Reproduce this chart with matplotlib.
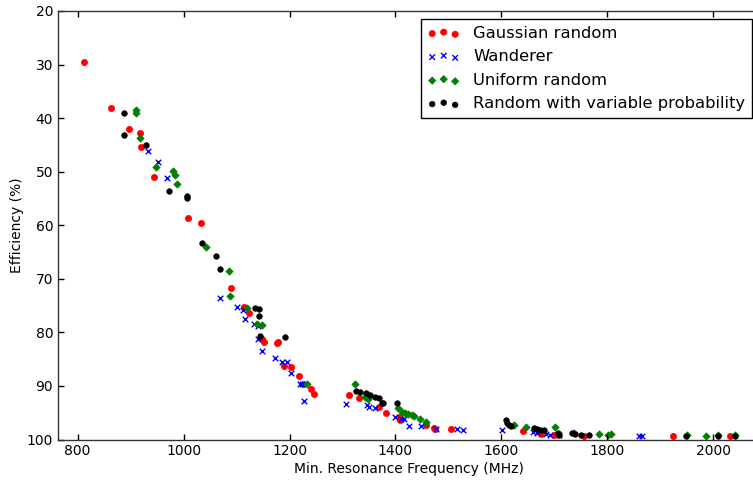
import matplotlib
matplotlib.use("Agg")
import matplotlib.pyplot as plt

# Gaussian random
gauss_f = [813, 863, 897, 917, 920, 944, 1008, 1032, 1089, 1114, 1124, 1148, 1151, 1177,
           1179, 1189, 1203, 1218, 1225, 1240, 1246, 1313, 1331, 1369, 1382, 1407, 1409,
           1458, 1473, 1475, 1504, 1640, 1675, 1699, 1755, 1923, 2032]
gauss_e = [29.5, 38.1, 42.1, 42.8, 45.4, 50.9, 58.7, 59.6, 71.8, 75.3, 76.4, 81.3, 81.8, 81.9,
           81.8, 86.3, 86.5, 88.2, 89.7, 90.5, 91.5, 91.7, 92.3, 94.0, 95.0, 95.8, 96.3,
           97.3, 97.9, 98.0, 98.0, 98.4, 99.0, 99.1, 99.3, 99.3, 99.3]

# Wanderer
wand_f = [932, 952, 969, 1069, 1101, 1113, 1116, 1132, 1141, 1141, 1148, 1172, 1186,
          1196, 1203, 1219, 1224, 1227, 1306, 1347, 1350, 1361, 1400, 1410, 1416, 1425,
          1449, 1476, 1516, 1528, 1601, 1660, 1668, 1685, 1691, 1709, 1859, 1866]
wand_e = [46.1, 48.1, 51.1, 73.6, 75.3, 75.9, 77.5, 78.4, 78.9, 81.3, 83.5, 84.8, 85.6,
          85.6, 87.6, 89.7, 89.7, 92.8, 93.3, 93.5, 93.9, 94.1, 95.8, 96.2, 96.2, 97.4,
          97.4, 98.0, 98.1, 98.2, 98.2, 98.6, 98.8, 99.0, 99.1, 99.1, 99.3, 99.4]

# Uniform random
unif_f = [911, 911, 918, 948, 981, 983, 987, 1042, 1085, 1088, 1120, 1139, 1148, 1233,
          1324, 1342, 1349, 1405, 1412, 1418, 1424, 1431, 1434, 1446, 1458, 1623, 1647,
          1702, 1737, 1784, 1802, 1807, 1951, 1987, 2008, 2041]
unif_e = [38.4, 39.1, 43.7, 49.1, 49.8, 50.6, 52.3, 64.1, 68.5, 73.3, 75.4, 78.5, 78.7, 89.7,
          89.7, 92.0, 92.5, 94.2, 94.9, 95.1, 95.3, 95.5, 95.6, 96.2, 96.8, 97.3, 97.7,
          97.6, 98.7, 99.0, 99.1, 99.0, 99.1, 99.3, 99.2, 99.2]

# Random with variable probability
varp_f = [887, 888, 929, 973, 1007, 1007, 1034, 1061, 1069, 1134, 1142, 1143, 1144, 1191,
          1326, 1333, 1344, 1351, 1361, 1368, 1375, 1377, 1403, 1608, 1610, 1615, 1618,
          1662, 1668, 1673, 1681, 1706, 1708, 1734, 1739, 1751, 1765, 1948, 2008, 2041]
varp_e = [39.1, 43.2, 45.0, 53.6, 54.5, 55.0, 63.4, 65.7, 68.1, 75.4, 75.7, 76.9, 80.6, 80.9,
          91.0, 91.2, 91.3, 91.7, 92.0, 92.3, 93.1, 93.1, 93.2, 96.4, 96.9, 97.2, 97.5,
          97.9, 98.1, 98.3, 98.3, 98.8, 99.1, 98.7, 98.9, 99.2, 99.2, 99.3, 99.3, 99.3]

x_ticks = [800, 1000, 1200, 1400, 1600, 1800, 2000]
y_ticks = [20, 30, 40, 50, 60, 70, 80, 90, 100]

W, H = 753, 482
fig = plt.figure(figsize=(W / 100, H / 100), dpi=100)
# right side of the original figure is cut off, so the axes run past the edge
ax = fig.add_axes([58 / W, (H - 439.5) / H, (760 - 58) / W, 428.5 / H])

ax.scatter(gauss_f, gauss_e, s=20, c="red", marker="o", edgecolors="face",
           linewidths=0.5, label="Gaussian random")
ax.scatter(wand_f, wand_e, s=16, c="blue", marker="x", linewidths=1.0, label="Wanderer")
ax.scatter(unif_f, unif_e, s=14, c="green", marker="D", edgecolors="face",
           linewidths=0.5, label="Uniform random")
ax.scatter(varp_f, varp_e, s=16, c="black", marker="o", edgecolors="face",
           linewidths=0.5, label="Random with variable probability")

ax.set_xlim(763, 2088)
ax.set_ylim(100, 20)
ax.set_xticks(x_ticks)
ax.set_yticks(y_ticks)
ax.tick_params(direction="in", length=4, width=1, top=True, right=True, labelsize=10)
for sp in ax.spines.values():
    sp.set_linewidth(1.0)
    sp.set_color("#333333")

ax.set_xlabel("Min. Resonance Frequency (MHz)", fontsize=10, labelpad=2.5)
ax.set_ylabel("Efficiency (%)", fontsize=10, labelpad=2)

leg = ax.legend(loc="upper right", bbox_to_anchor=(752 / W, 1 - 19.3 / H),
                bbox_transform=fig.transFigure, borderaxespad=0, fontsize=11.8,
                scatterpoints=3, scatteryoffsets=[0.375, 0.5, 0.3125],
                fancybox=False, framealpha=1, edgecolor="black",
                labelspacing=0.52, handlelength=2.0, handletextpad=0.8, borderpad=0.4)
leg.get_frame().set_linewidth(1.0)

fig.savefig("out.png", dpi=100)
